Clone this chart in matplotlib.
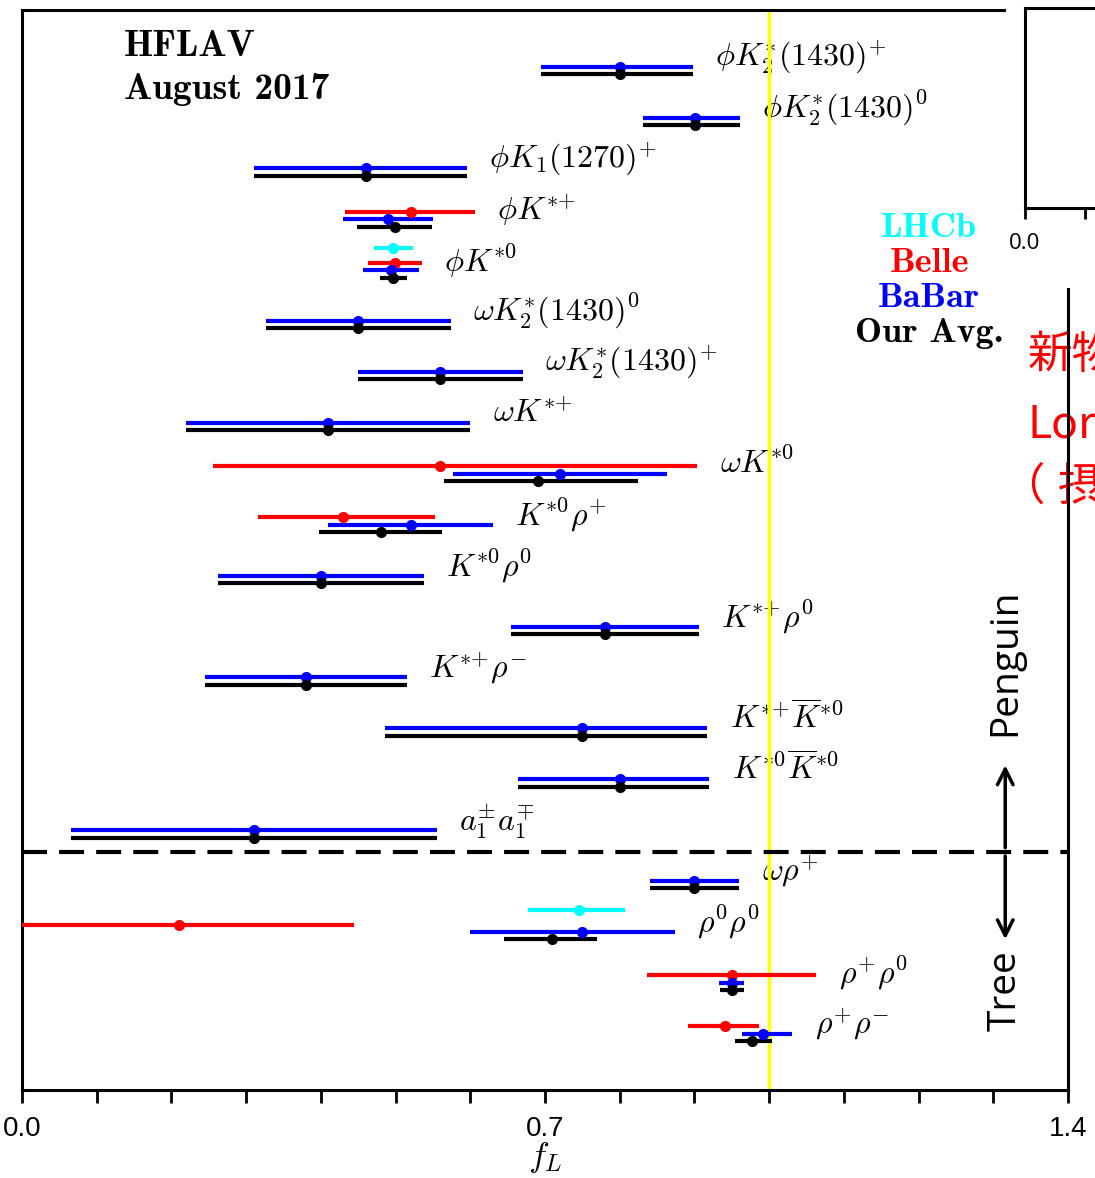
import numpy as np
import matplotlib.pyplot as plt
from matplotlib.patches import Rectangle

plt.rcParams['mathtext.fontset'] = 'cm'

W, H = 1095, 1178

# decay modes, top to bottom
decays = [r'$\phi K_2^{*}(1430)^{{+}}$', r'$\phi K_2^{*}(1430)^{0}$', r'$\phi K_1(1270)^{{+}}$',
          r'$\phi K^{*{+}}$', r'$\phi K^{*0}$', r'$\omega K_2^{*}(1430)^{0}$',
          r'$\omega K_2^{*}(1430)^{{+}}$', r'$\omega K^{*{+}}$', r'$\omega K^{*0}$',
          r'$K^{*0}\rho^{+}$', r'$K^{*0}\rho^{0}$', r'$K^{*{+}}\rho^{0}$', r'$K^{*{+}}\rho^{-}$',
          r'$K^{*{+}}\overline{K}^{*0}$', r'$K^{*0}\overline{K}^{*0}$', r'$a_1^{\pm}a_1^{\mp}$',
          r'$\omega\rho^{+}$', r'$\rho^{0}\rho^{0}$', r'$\rho^{+}\rho^{0}$', r'$\rho^{+}\rho^{-}$']

# BaBar (every mode)
babar_rows = list(range(20))
babar_val = [0.80, 0.901, 0.46, 0.49, 0.494, 0.45, 0.56, 0.41, 0.72, 0.52,
             0.40, 0.78, 0.38, 0.75, 0.80, 0.31, 0.90, 0.75, 0.950, 0.992]
babar_lo = [0.105, 0.07, 0.15, 0.06, 0.038, 0.124, 0.11, 0.19, 0.143, 0.11,
            0.138, 0.125, 0.135, 0.264, 0.136, 0.245, 0.06, 0.15, 0.017, 0.028]
babar_hi = [0.098, 0.06, 0.135, 0.06, 0.038, 0.124, 0.11, 0.19, 0.143, 0.11,
            0.138, 0.126, 0.135, 0.167, 0.12, 0.245, 0.06, 0.124, 0.017, 0.039]

# Belle
belle_rows = [3, 4, 8, 9, 17, 18, 19]
belle_val = [0.52, 0.499, 0.56, 0.43, 0.21, 0.95, 0.941]
belle_lo = [0.088, 0.036, 0.304, 0.114, 0.27, 0.113, 0.05]
belle_hi = [0.086, 0.036, 0.344, 0.123, 0.234, 0.113, 0.045]

# LHCb
lhcb_rows = [4, 17]
lhcb_val = [0.497, 0.745]
lhcb_lo = [0.026, 0.068]
lhcb_hi = [0.026, 0.062]

# HFLAV average
avg_rows = list(range(20))
avg_val = [0.80, 0.901, 0.46, 0.499, 0.497, 0.45, 0.56, 0.41, 0.69, 0.48,
           0.40, 0.78, 0.38, 0.75, 0.80, 0.31, 0.90, 0.71, 0.950, 0.977]
avg_lo = [0.105, 0.07, 0.15, 0.05, 0.018, 0.124, 0.11, 0.19, 0.125, 0.082,
          0.138, 0.125, 0.135, 0.264, 0.136, 0.245, 0.06, 0.065, 0.016, 0.023]
avg_hi = [0.098, 0.06, 0.135, 0.05, 0.018, 0.124, 0.11, 0.19, 0.135, 0.082,
          0.138, 0.126, 0.135, 0.167, 0.12, 0.245, 0.06, 0.06, 0.016, 0.027]


def fx(px):
    return px / W


def fy(py):
    return 1 - py / H


fig = plt.figure(figsize=(W / 100, H / 100), dpi=100)
ax = fig.add_axes([fx(22), fy(1090), (1068 - 22) / W, (1090 - 10) / H])

slot = 0.145
sets = [(lhcb_rows, lhcb_val, lhcb_lo, lhcb_hi, 'cyan', -4),
        (belle_rows, belle_val, belle_lo, belle_hi, 'red', -2),
        (babar_rows, babar_val, babar_lo, babar_hi, 'blue', -1),
        (avg_rows, avg_val, avg_lo, avg_hi, 'black', 0)]
for rows, val, lo, hi, col, k in sets:
    y = np.array(rows) + k * slot
    ax.errorbar(val, y, xerr=[lo, hi], fmt='o', color=col, ms=7,
                elinewidth=3, capsize=0, zorder=3)

# decay labels to the right of the widest bar in each row
right = np.array(avg_val) + np.array(avg_hi)
for rows, val, lo, hi, col, k in sets:
    for r, v, h in zip(rows, val, hi):
        right[r] = max(right[r], v + h)
for i, lab in enumerate(decays):
    ax.text(right[i] + 0.03, i - 0.33, lab, fontsize=23, va='center',
            ha='left', zorder=1)

ax.axvline(1.0, color='yellow', lw=2.5, zorder=1.5)
ax.axhline(15.28, color='black', lw=3, ls=(0, (6, 2.9)), zorder=2)

ax.set_xlim(0, 1.4)
ax.set_ylim(19.96, -1.257)
ax.set_yticks([])
ax.set_xticks([0, 0.7, 1.4])
ax.set_xticklabels(['0.0', '0.7', '1.4'],
                   family=['Liberation Sans Narrow', 'Liberation Sans'], fontsize=20)
ax.set_xticks(np.arange(0, 1.41, 0.1), minor=True)
ax.tick_params(axis='x', which='both', direction='out', length=9, width=2)
ax.tick_params(axis='x', which='major', pad=10)
for s in ax.spines.values():
    s.set_linewidth(2.2)
ax.set_xlabel(r'$\boldsymbol{f_L}$', fontsize=25, labelpad=-2)

# legend
bold = 'cmb10'
leg = [('LHCb', 'cyan'), ('Belle', 'red'), ('BaBar', 'blue'), ('Our Avg.', 'black')]
for j, (name, col) in enumerate(leg):
    ax.text(1.214, 3.03 + 0.69 * j, name, color=col, family=bold,
            fontsize=26, ha='center', va='center')

fig.text(fx(124), fy(46), 'HFLAV', family=bold, fontsize=27, va='center')
fig.text(fx(124), fy(90), 'August 2017', family=bold, fontsize=27, va='center')

# Penguin / Tree
sans = ['Open Sans', 'DejaVu Sans']
ax.text(1.316, 11.55, 'Penguin', rotation=90, family=sans, fontsize=28,
        ha='center', va='center')
ax.text(1.316, 18.0, 'Tree', rotation=90, family=sans, fontsize=28,
        ha='center', va='center')
ax.annotate('', xy=(1.316, 13.58), xytext=(1.316, 15.2),
            arrowprops=dict(arrowstyle='->', lw=2.5, color='black', mutation_scale=28,
                            shrinkA=0, shrinkB=0))
ax.annotate('', xy=(1.316, 17.0), xytext=(1.316, 15.36),
            arrowprops=dict(arrowstyle='->', lw=2.5, color='black', mutation_scale=28,
                            shrinkA=0, shrinkB=0))

# pasted overlay at top right
fig.add_artist(Rectangle((fx(1006), fy(288)), (W - 1006) / W, 288 / H,
                         transform=fig.transFigure, facecolor='white',
                         edgecolor='none', zorder=5))
ins = fig.add_axes([fx(1025), fy(208), 200 / W, 200 / H], zorder=6)
ins.set_xlim(0, 1)
ins.set_yticks([])
ins.set_xticks([0, 0.3])
ins.set_xticklabels(['0.0', ''], family=sans, fontsize=16)
ins.tick_params(axis='x', length=8, width=2, pad=10)
for s in ins.spines.values():
    s.set_linewidth(2.2)

cjk = ['Noto Sans CJK JP', 'DejaVu Sans']
for txt, xp, yp in [('新物理', 1028, 355), ('Lorentz', 1028, 425),
                    ('（', 1000, 487), ('摂動）', 1058, 487)]:
    ax.text(fx(xp), fy(yp), txt, transform=fig.transFigure, color='red',
            family=cjk, fontsize=32, va='center', ha='left', clip_on=False, zorder=1)

fig.savefig('out.png', dpi=100)
